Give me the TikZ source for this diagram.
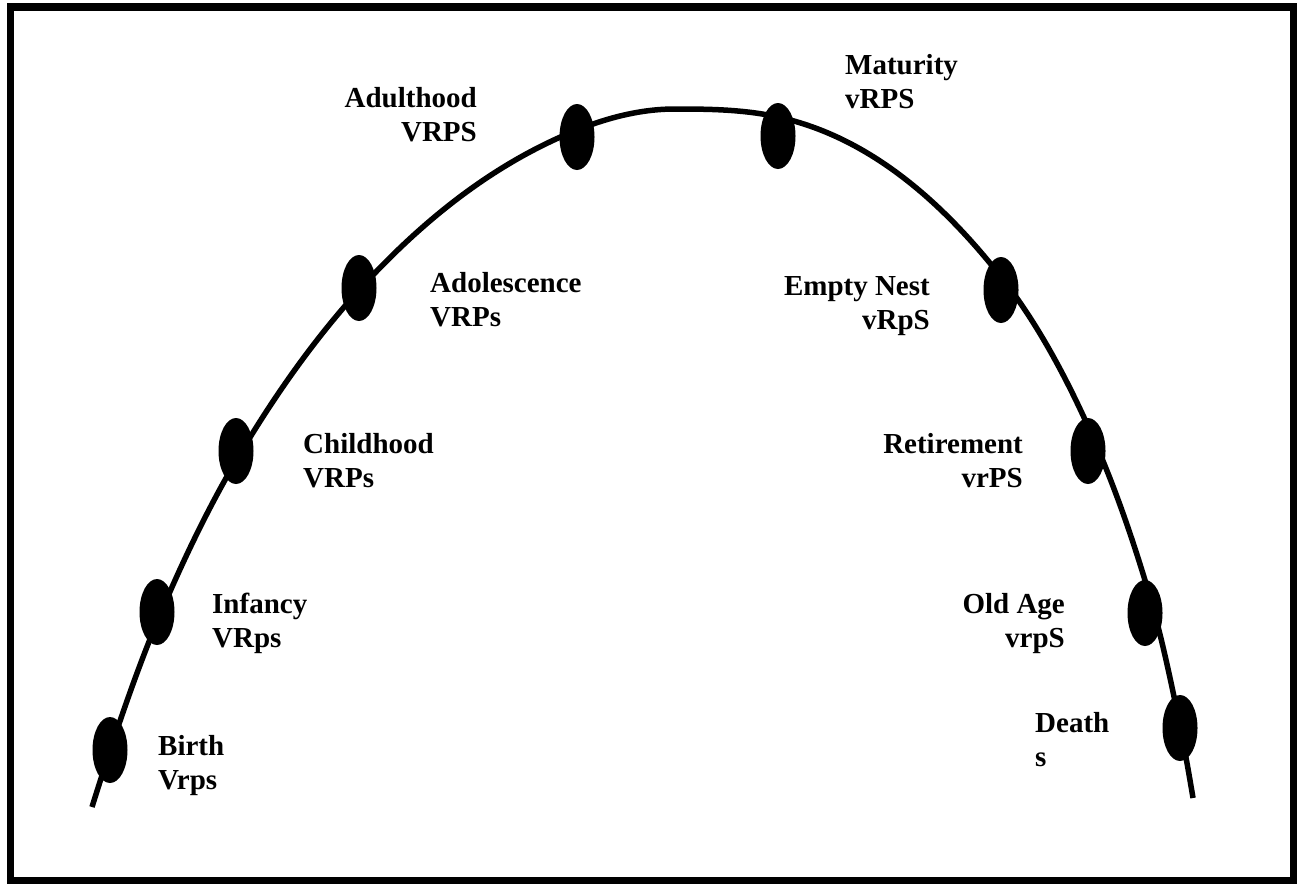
\documentclass[tikz,border=0pt]{standalone}
\usepackage{fontspec}
\setmainfont{Liberation Serif}
\usetikzlibrary{shapes.geometric}
\begin{document}
\begin{tikzpicture}[x=1pt,y=-1pt,
  stage/.style={ellipse, fill=black, draw=none, minimum width=35pt, minimum height=66pt, inner sep=0pt},
  lbl/.style={inner sep=0pt, text=black, font=\fontsize{29}{34}\selectfont\bfseries},
  lbll/.style={lbl, align=left, anchor=base west},
  lblr/.style={lbl, align=right, anchor=base east},
  frame/.style={draw=black, line width=7.5pt},
  life/.style={draw=black, line width=5.5pt, line join=round}]
\useasboundingbox (0,0) rectangle (1297,884);
\draw[frame] (10.5,7) rectangle (1293.5,880.5);
% life curve
\draw[life] (92,807)
  .. controls (113.67,737.67) and (135.33,674) .. (157,622)
  .. controls (183.67,558) and (210.33,504.33) .. (237,459)
  .. controls (278,389.3) and (319,334.1) .. (360,289)
  .. controls (432.33,209.43) and (504.67,158.93) .. (577,130)
  .. controls (609.67,116.93) and (642.33,109) .. (675,109)
  .. controls (709.33,109) and (743.67,109.45) .. (778,117)
  .. controls (853.67,133.65) and (929.33,183.63) .. (1005,282)
  .. controls (1035,321) and (1065,373) .. (1095,442)
  .. controls (1113.33,484.17) and (1131.67,534.67) .. (1150,597)
  .. controls (1160,631) and (1170,676) .. (1180,726)
  .. controls (1184.33,747.67) and (1188.67,772) .. (1193,798);
% stages
\node[stage] (birth) at (110,750) {};
\node[stage] (infancy) at (157,612) {};
\node[stage] (childhood) at (236,451) {};
\node[stage] (adolescence) at (359,288) {};
\node[stage] (adulthood) at (577,137) {};
\node[stage] (maturity) at (778,136) {};
\node[stage] (emptynest) at (1001,290) {};
\node[stage] (retirement) at (1088,451) {};
\node[stage] (oldage) at (1145,613) {};
\node[stage] (death) at (1180,728) {};
% labels (anchor = baseline of the last line)
\node[lbll] (tbirth) at (158,789) {Birth\\Vrps};
\node[lbll] (tinfancy) at (212,647) {Infancy\\VRps};
\node[lbll] (tchildhood) at (303,487) {Childhood\\VRPs};
\node[lbll] (tadolescence) at (430,326) {Adolescence\\VRPs};
\node[lblr] (tadulthood) at (477,141) {Adulthood\\VRPS};
\node[lbll] (tmaturity) at (845,108) {Maturity\\vRPS};
\node[lblr] (temptynest) at (930,329) {Empty Nest\\vRpS};
\node[lblr] (tretirement) at (1023,487) {Retirement\\vrPS};
\node[lblr] (toldage) at (1065,647) {Old Age\\vrpS};
\node[lbll] (tdeath) at (1035,766) {Death\\s};
\end{tikzpicture}
\end{document}
